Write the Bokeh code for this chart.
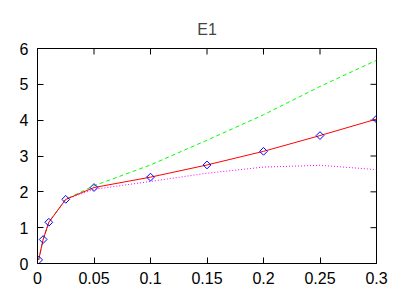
import math
from bokeh.plotting import figure
from bokeh.models import Range1d, FixedTicker
from bokeh.embed import file_html
from bokeh.resources import INLINE

x = [0.001, 0.005, 0.01, 0.025, 0.05, 0.1, 0.15, 0.2, 0.25, 0.3]
red = [0.1, 0.67, 1.15, 1.79, 2.12, 2.41, 2.75, 3.13, 3.57, 4.03]
green = [0.1, 0.67, 1.15, 1.79, 2.17, 2.75, 3.44, 4.15, 4.94, 5.67]
magenta = [0.1, 0.67, 1.15, 1.79, 2.07, 2.29, 2.52, 2.69, 2.74, 2.62]
xticks = [0, 0.05, 0.1, 0.15, 0.2, 0.25, 0.3]
xlabels = ["0", "0.05", "0.1", "0.15", "0.2", "0.25", "0.3"]
yticks = [0, 1, 2, 3, 4, 5, 6]
XMIN, XMAX, YMIN, YMAX = 0, 0.3, 0, 6

FONT = "Liberation Sans"

p = figure(width=402, height=296, output_backend="svg", toolbar_location=None,
           x_range=Range1d(XMIN, XMAX), y_range=Range1d(YMIN, YMAX),
           min_border_left=37, min_border_right=26, min_border_top=48, min_border_bottom=33,
           title="E1")
p.title.align = "center"
p.title.text_font = FONT
p.title.text_font_size = "16px"
p.title.text_font_style = "normal"
p.title.standoff = 22
p.grid.visible = False
p.outline_line_color = "black"
p.outline_line_width = 1
p.background_fill_color = "white"
p.border_fill_color = "white"

for ax in [p.xaxis[0], p.yaxis[0]]:
    ax.major_tick_in = 6
    ax.major_tick_out = 0
    ax.minor_tick_line_color = None
    ax.axis_line_color = "black"
    ax.major_tick_line_color = "black"
    ax.major_label_text_font = FONT
    ax.major_label_text_font_size = "16px"
    ax.major_label_text_color = "black"

p.xaxis[0].ticker = FixedTicker(ticks=xticks)
p.xaxis[0].major_label_overrides = {t: l for t, l in zip(xticks, xlabels)}
p.xaxis[0].major_label_standoff = 8
p.yaxis[0].ticker = FixedTicker(ticks=yticks)
p.yaxis[0].major_label_standoff = 9

# mirrored inward ticks on top and right
p.ray(x=xticks, y=[YMAX] * len(xticks), length=6, length_units="screen",
      angle=-math.pi / 2, line_color="black", line_width=1)
p.ray(x=[XMAX] * len(yticks), y=yticks, length=6, length_units="screen",
      angle=math.pi, line_color="black", line_width=1)

p.line(x, green, line_color="#00ff00", line_width=1, line_dash="4 3")
p.line(x, magenta, line_color="#ff00ff", line_width=1, line_dash="1 2")
p.line(x, red, line_color="#ff0000", line_width=1)
p.scatter(x, red, marker="square", angle=math.pi / 4, size=5.5, fill_color=None,
          line_color="#0000ff", line_width=1)

open("out.html", "w").write(file_html(p, INLINE))
